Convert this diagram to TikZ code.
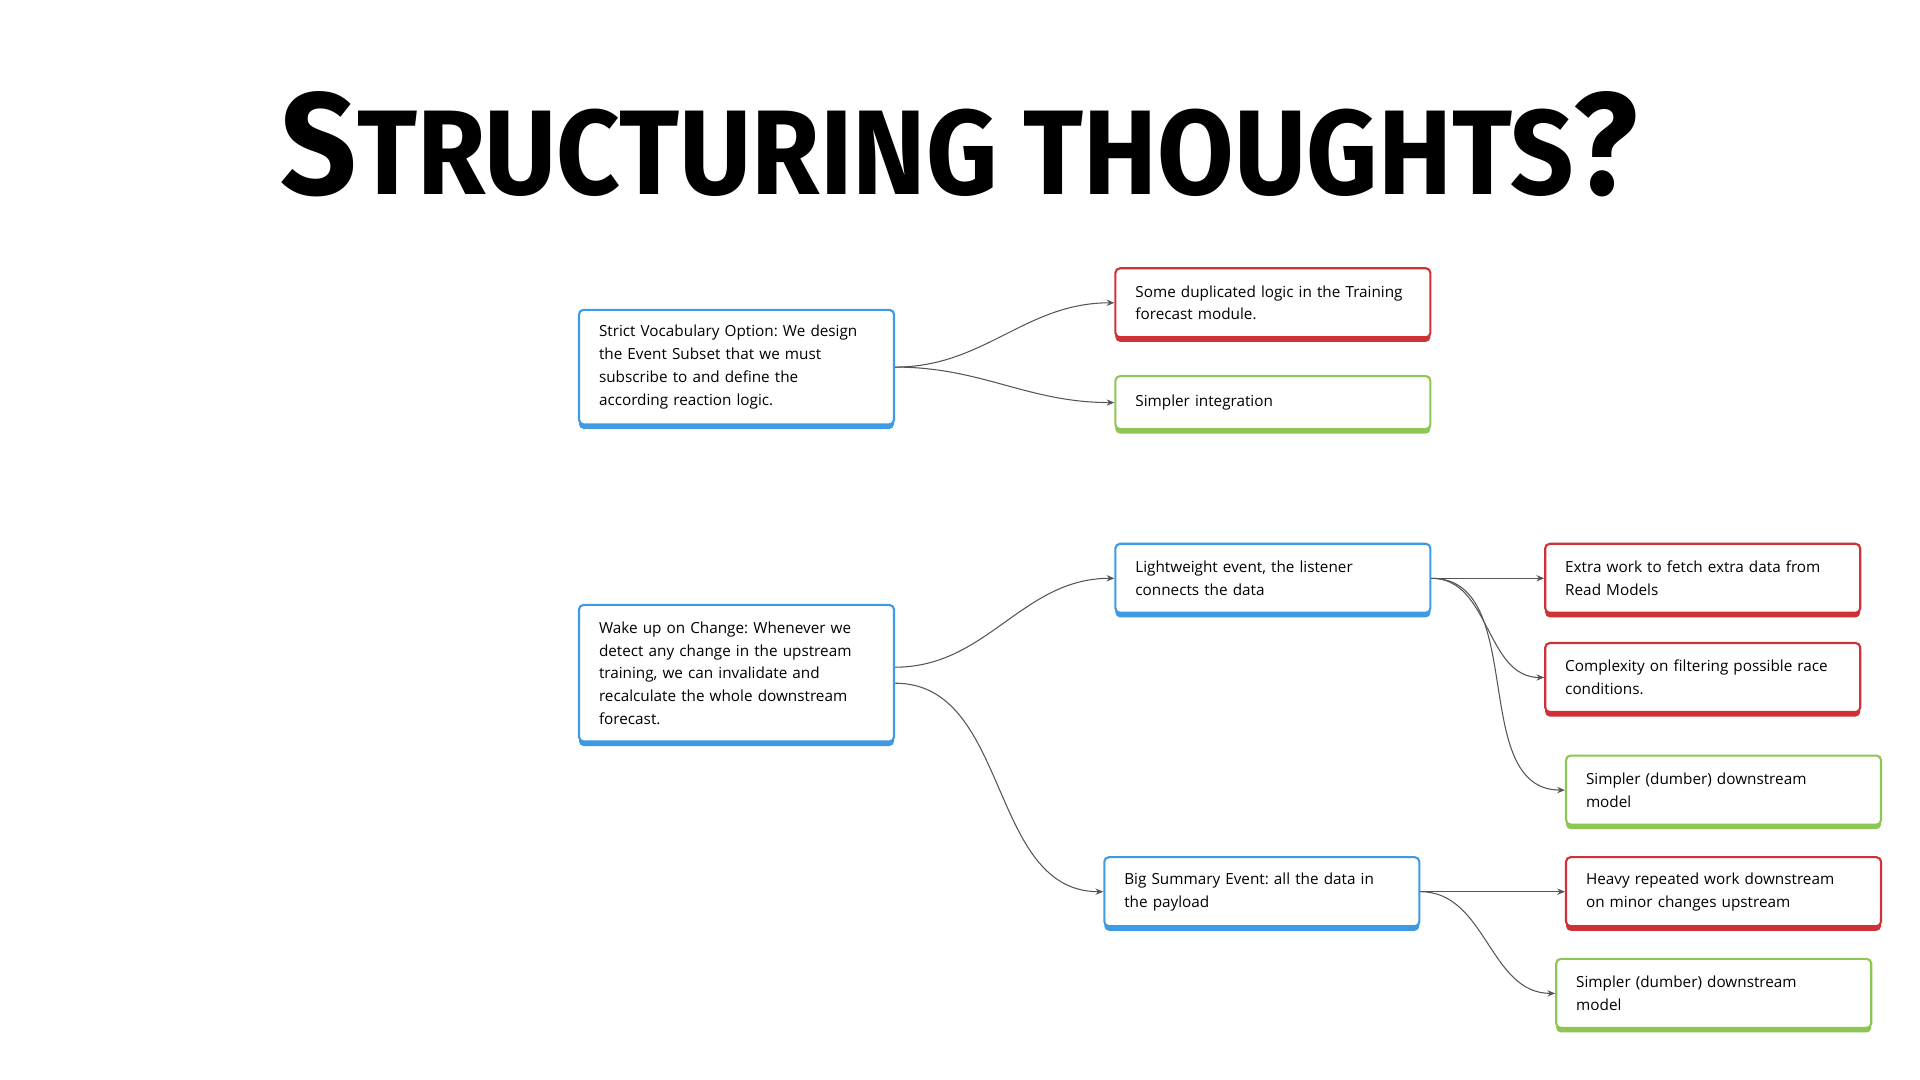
\documentclass[tikz,border=0pt]{standalone}
\usepackage{graphicx}
\usepackage{fontspec}
\setmainfont{Open Sans}
\newfontfamily\titlefont{Fira Sans}
\usetikzlibrary{arrows.meta,shadows}
\definecolor{STBlue}{HTML}{3D9BE6}
\definecolor{STRed}{HTML}{CF3236}
\definecolor{STGreen}{HTML}{8DC653}
\definecolor{STLine}{HTML}{555555}
\newcommand\cardfont{\fontsize{4.35}{6.5}\selectfont\frenchspacing\hyphenpenalty=10000\relax}
\tikzset{
  card/.style={draw=#1, line width=0.6pt, fill=white, rounded corners=1.3pt,
    general shadow={fill=#1, shadow yshift=-1.3pt},
    text width=2.75cm, align=left, inner xsep=0.2cm, inner ysep=0pt,
    font=\cardfont},
  link/.style={STLine, line width=0.3pt, -{Stealth[length=2.2pt,width=1.8pt]}},
}

\begin{document}
\begin{tikzpicture}[x=1cm,y=1cm]
\path[use as bounding box] (0,0) rectangle (19.20,10.80);
\node[anchor=base west,inner sep=0pt] (title) at (2.80,8.85)
  {\resizebox{13.57cm}{1.03cm}{\titlefont\bfseries\fontsize{10}{10}\selectfont S\fontsize{8.3}{8.3}\selectfont TRUCTURING THOUGHTS\fontsize{10}{10}\selectfont ?}};
% first option
\node[card=STBlue,minimum height=1.145cm] (strict) at (7.365,7.129)
  {Strict Vocabulary Option: We design\\the Event Subset that we must\\subscribe to and define the\\according reaction logic.};
\node[card=STRed,minimum height=0.69cm] (dup) at (12.729,7.772)
  {Some duplicated logic in the Training\\forecast module.};
\node[card=STGreen,minimum height=0.53cm] (simple) at (12.729,6.774)
  {Simpler integration};
% second option
\node[card=STBlue,minimum height=1.365cm] (wake) at (7.365,4.068)
  {Wake up on Change: Whenever we\\detect any change in the upstream\\training, we can invalidate and\\recalculate the whole downstream\\forecast.};
\node[card=STBlue,minimum height=0.69cm] (light) at (12.729,5.017)
  {Lightweight event, the listener\\connects the data};
\node[card=STBlue,minimum height=0.69cm] (summary) at (12.618,1.883)
  {Big Summary Event: all the data in\\the payload};
\node[card=STRed,minimum height=0.69cm] (fetch) at (17.027,5.017)
  {Extra work to fetch extra data from\\Read Models};
\node[card=STRed,minimum height=0.69cm] (race) at (17.027,4.025)
  {Complexity on filtering possible race\\conditions.};
\node[card=STGreen,minimum height=0.69cm] (dumbA) at (17.235,2.899)
  {Simpler (dumber) downstream\\model};
\node[card=STRed,minimum height=0.69cm] (heavy) at (17.235,1.883)
  {Heavy repeated work downstream\\on minor changes upstream};
\node[card=STGreen,minimum height=0.69cm] (dumbB) at (17.137,0.866)
  {Simpler (dumber) downstream\\model};
% connectors
\draw[link] (strict.east) to[out=0,in=180] (dup.west);
\draw[link] (strict.east) to[out=0,in=180] (simple.west);
\draw[link] ([yshift=0.06cm]wake.east) to[out=0,in=180] (light.west);
\draw[link] ([yshift=-0.1cm]wake.east) to[out=0,in=180] (summary.west);
\foreach \n in {fetch,race,dumbA}
  \draw[link] (light.east) to[out=0,in=180] (\n.west);
\foreach \n in {heavy,dumbB}
  \draw[link] (summary.east) to[out=0,in=180] (\n.west);
\end{tikzpicture}
\end{document}
